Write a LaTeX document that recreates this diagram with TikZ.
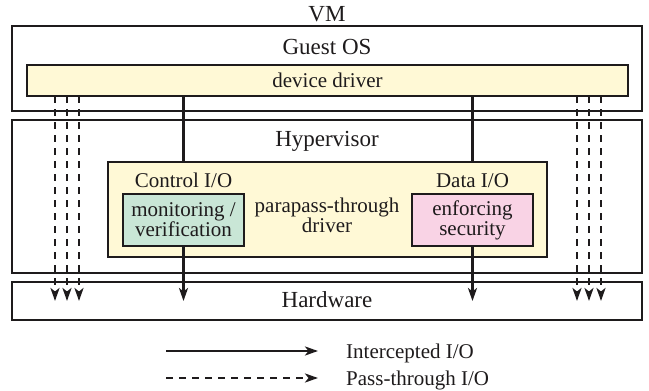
\documentclass[tikz,border=0pt]{standalone}
\usepackage{fontspec}
\setmainfont{Liberation Serif}
\usetikzlibrary{positioning, arrows.meta}

\definecolor{ink}{RGB}{30,27,28}
\definecolor{driveryellow}{RGB}{255,249,214}
\definecolor{ctrlgreen}{RGB}{201,230,214}
\definecolor{datapink}{RGB}{249,211,229}

\begin{document}
\begin{tikzpicture}[x=1pt, y=-1pt,
	layerbox/.style={draw=ink, line width=2.8pt, inner sep=0pt},
	biglabel/.style={inner sep=0pt, anchor=base, text=ink, font=\fontsize{23}{26}\selectfont},
	smalllabel/.style={inner sep=0pt, text=ink, font=\fontsize{21}{20}\selectfont},
	icpt/.style={draw=ink, line width=2.5pt},
	pass/.style={draw=ink, line width=2.5pt, dash pattern=on 7pt off 6pt},
	tip/.style={-{Stealth[length=13pt, width=9pt, inset=3.5pt]}}]
	\useasboundingbox (0,0) rectangle (649,391);

			\node[biglabel]                                               (vm)       at (327,21)  {VM};
			\node[layerbox, minimum width=630, minimum height=85]         (guest)    at (327,68.5) {};
			\node[biglabel]                                               (guest os) at (327,54)  {Guest OS};
			\node[layerbox, fill=driveryellow, minimum width=601, minimum height=31, smalllabel] (driver) at (327.5,80.5) {device driver};
			\node[layerbox, minimum width=630, minimum height=153]        (hyper)    at (327,196.5) {};
			\node[biglabel]                                               (hyper lbl) at (327,146) {Hypervisor};
			\node[layerbox, minimum width=630, minimum height=38]         (hardware) at (327,301) {};
			\node[biglabel]                                               (hw lbl)   at (327,307) {Hardware};

			\coordinate (p1) at (55,96);
			\coordinate (p2) at (67,96);
			\coordinate (p3) at (79,96);
			\coordinate (p4) at (577,96);
			\coordinate (p5) at (589,96);
			\coordinate (p6) at (601,96);
			\draw[pass, tip] (p1) -- (p1 |- hardware.center);
			\draw[pass, tip] (p2) -- (p2 |- hardware.center);
			\draw[pass, tip] (p3) -- (p3 |- hardware.center);
			\draw[pass, tip] (p4) -- (p4 |- hardware.center);
			\draw[pass, tip] (p5) -- (p5 |- hardware.center);
			\draw[pass, tip] (p6) -- (p6 |- hardware.center);

			\node[layerbox, fill=driveryellow, minimum width=439, minimum height=95] (para) at (327.5,209.5) {};
			\node[layerbox, fill=ctrlgreen, minimum width=121, minimum height=52, smalllabel, align=center] (ctrl) at (183.5,220) {monitoring /\\verification};
			\node[layerbox, fill=datapink, minimum width=121, minimum height=52, smalllabel, align=center]  (data) at (472.5,220) {enforcing\\security};
			\node[smalllabel, above=5pt of ctrl.north, anchor=base]  (ctrl io) {Control I/O};
			\node[smalllabel, above=5pt of data.north, anchor=base]  (data io) {Data I/O};
			\node[smalllabel, align=center]                               (para lbl) at (327,215) {parapass-through\\driver};

			\draw[icpt] (driver.south -| ctrl) -- (ctrl |- para.north);
			\draw[icpt] (driver.south -| data) -- (data |- para.north);
			\draw[icpt, tip] (ctrl.south) -- (ctrl |- hardware.center);
			\draw[icpt, tip] (data.south) -- (data |- hardware.center);

			\node[smalllabel, anchor=base west] (leg icpt) at (346,358) {Intercepted I/O};
			\node[smalllabel, anchor=base west] (leg pass) at (346,385) {Pass-through I/O};
			\coordinate (ls1) at (166,351);
			\coordinate (ls2) at (166,378);
			\draw[icpt, tip] (ls1) -- (ls1 -| 318,0);
			\draw[pass, tip] (ls2) -- (ls2 -| 318,0);

		\end{tikzpicture}
\end{document}
